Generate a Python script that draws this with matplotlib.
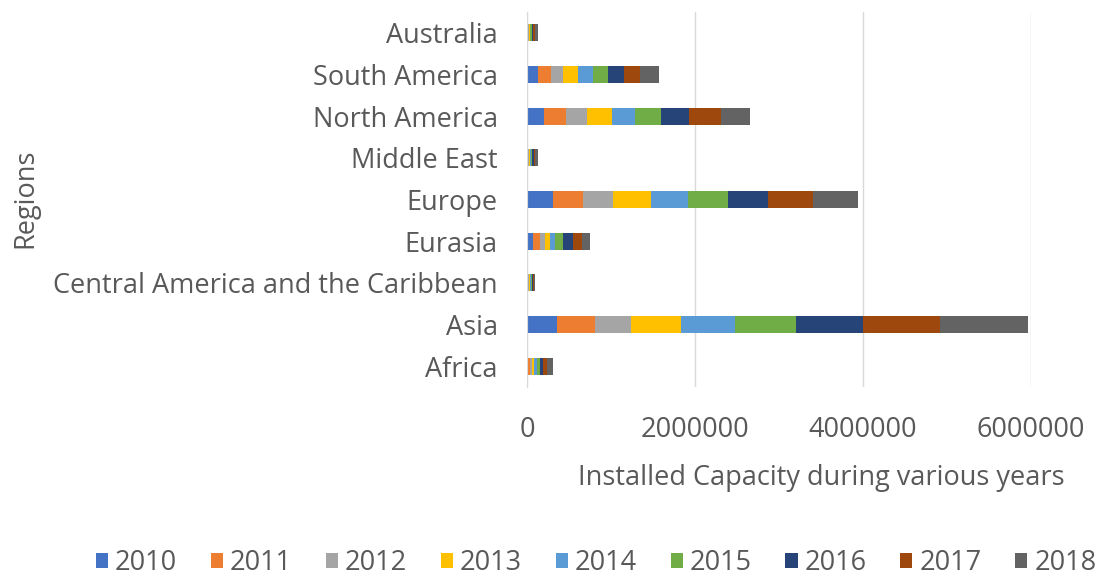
import matplotlib
matplotlib.use("Agg")
import matplotlib.pyplot as plt
import numpy as np

# regions, bottom to top as drawn
regions = ["Africa", "Asia", "Central America and the Caribbean", "Eurasia",
           "Europe", "Middle East", "North America", "South America", "Australia"]
years = ["2010", "2011", "2012", "2013", "2014", "2015", "2016", "2017", "2018"]

# installed capacity per year, same order as regions
cap_2010 = [15000, 357000, 8000, 70000, 310000, 8000, 200000, 130000, 6000]
cap_2011 = [20000, 449000, 8000, 80000, 357000, 9000, 270000, 160000, 7000]
cap_2012 = [25000, 437000, 9000, 60000, 357000, 10000, 240000, 140000, 8000]
cap_2013 = [25000, 595000, 9000, 60000, 456000, 11000, 300000, 180000, 9000]
cap_2014 = [30000, 635000, 10000, 60000, 437000, 12000, 280000, 180000, 11000]
cap_2015 = [35000, 726000, 11000, 100000, 476000, 14000, 300000, 180000, 13000]
cap_2016 = [40000, 801000, 12000, 120000, 476000, 17000, 340000, 180000, 16000]
cap_2017 = [50000, 913000, 14000, 100000, 536000, 20000, 380000, 200000, 24000]
cap_2018 = [70000, 1051000, 19000, 100000, 536000, 29000, 340000, 220000, 36000]

series = [cap_2010, cap_2011, cap_2012, cap_2013, cap_2014,
          cap_2015, cap_2016, cap_2017, cap_2018]
colors = ["#4472C4", "#ED7D31", "#A5A5A5", "#FFC000", "#5B9BD5",
          "#70AD47", "#264478", "#9E480E", "#636363"]

txt = "#595959"
fs = 19.5
plt.rcParams["font.family"] = ["Open Sans", "DejaVu Sans"]

fig = plt.figure(figsize=(11.02, 5.81), dpi=100)
ax = fig.add_axes([527 / 1102, 1 - 387 / 581, (1031 - 527) / 1102, 375 / 581])

y = np.arange(len(regions))
left = np.zeros(len(regions))
for yr, vals, c in zip(years, series, colors):
    ax.barh(y, vals, left=left, height=0.41, color=c, label=yr)
    left += np.array(vals)

ax.set_xlim(0, 6000000)
ax.set_ylim(-0.5, len(regions) - 0.5)
ax.set_xticks([0, 2000000, 4000000, 6000000])
ax.set_xticklabels(["0", "2000000", "4000000", "6000000"])
ax.set_yticks(y)
ax.set_yticklabels(regions)
ax.tick_params(axis="both", length=0, labelsize=fs, colors=txt)
ax.tick_params(axis="x", pad=21)
ax.tick_params(axis="y", pad=21)
ax.xaxis.grid(True, color="#d9d9d9", linewidth=1)
ax.set_axisbelow(True)
for s in ["top", "right", "bottom"]:
    ax.spines[s].set_visible(False)
ax.spines["left"].set_color("#d9d9d9")

fig.text(821 / 1102, 1 - 478 / 581, "Installed Capacity during various years",
         ha="center", va="center", fontsize=fs, color=txt)
fig.text(25 / 1102, 1 - 198 / 581, "Regions", rotation=90,
         ha="center", va="center", fontsize=fs, color=txt)

fig.legend(loc="center", bbox_to_anchor=(596 / 1102, 1 - 563 / 581), ncol=9,
           frameon=False, fontsize=fs, labelcolor=txt, handlelength=0.45,
           handleheight=0.45, handletextpad=0.25, columnspacing=1.25)

fig.savefig("out.png", dpi=100)
